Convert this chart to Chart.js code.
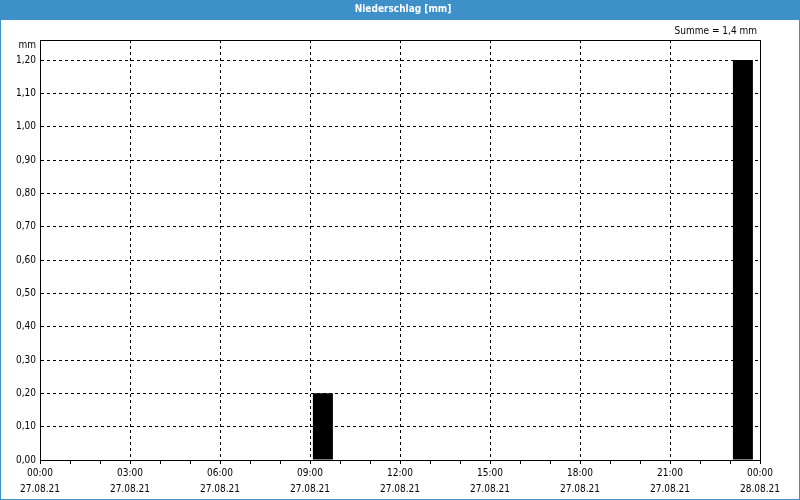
<!DOCTYPE html>
<html><head><meta charset="utf-8">
<script src="https://cdn.jsdelivr.net/npm/chart.js@4/dist/chart.umd.min.js"></script>
<style>html,body{margin:0;padding:0;background:#fff}#wrap{width:800px;height:500px;position:relative}</style>
</head><body><div id="wrap"><canvas id="c" width="800" height="500"></canvas></div>
<script>
const titleText = 'Niederschlag [mm]';
const sumText = 'Summe = 1,4 mm';
const unitText = 'mm';
const hours = [0,1,2,3,4,5,6,7,8,9,10,11,12,13,14,15,16,17,18,19,20,21,22,23];
const rain = [0,0,0,0,0,0,0,0,0,0.2,0,0,0,0,0,0,0,0,0,0,0,0,0,1.2];
const timeLabels = ['00:00','03:00','06:00','09:00','12:00','15:00','18:00','21:00','00:00'];
const dateLabels = ['27.08.21','27.08.21','27.08.21','27.08.21','27.08.21','27.08.21','27.08.21','27.08.21','28.08.21'];
const yTicks = [0,0.1,0.2,0.3,0.4,0.5,0.6,0.7,0.8,0.9,1.0,1.1,1.2];

const FONT = "'DejaVu Sans Condensed','Liberation Sans',sans-serif";
const BLUE = '#3d91c8';

const framePlugin = {
  id:'frame',
  beforeDraw(chart){
    const ctx = chart.ctx;
    ctx.save();
    ctx.fillStyle = BLUE;
    ctx.fillRect(0,0,800,20);
    ctx.fillStyle = '#fff';
    ctx.font = 'bold 10px ' + FONT;
    ctx.textAlign = 'center'; ctx.textBaseline = 'middle';
    ctx.fillText(titleText, 403, 9.5);
    ctx.fillStyle = '#000';
    ctx.font = '10px ' + FONT;
    ctx.textAlign = 'right';
    ctx.fillText(sumText, 757, 31);
    ctx.textAlign = 'right';
    ctx.fillText(unitText, 36, 45);
    ctx.restore();
  },
  afterDraw(chart){
    const ctx = chart.ctx, a = chart.chartArea;
    ctx.save();
    ctx.strokeStyle = '#000'; ctx.lineWidth = 1; ctx.setLineDash([]);
    ctx.strokeRect(Math.round(a.left)+0.5, Math.round(a.top)+0.5, Math.round(a.right-a.left), Math.round(a.bottom-a.top));
    ctx.strokeStyle = BLUE;
    ctx.strokeRect(0.5,0.5,799,499);
    ctx.restore();
  }
};

new Chart(document.getElementById('c'), {
  type:'bar',
  data:{ datasets:[{
    data: hours.map((h,i)=>({x:h+0.43, y:rain[i]})),
    backgroundColor:'#000', borderWidth:0, barThickness:20, grouped:false, inflateAmount:0
  }]},
  options:{
    responsive:false, animation:false,
    layout:{padding:{top:40,right:40,left:0,bottom:0}},
    plugins:{legend:{display:false},tooltip:{enabled:false},title:{display:false}},
    scales:{
      x:{
        type:'linear', min:0, max:24, offset:false,
        afterBuildTicks(s){ s.ticks = hours.concat([24]).map(v=>({value:v})); },
        afterFit(s){ s.height = 40; },
        grid:{ offset:false,
               color:c=> (c.tick && c.tick.value%3===0 && c.tick.value>0 && c.tick.value<24) ? '#000':'rgba(0,0,0,0)',
               tickColor:'#000', tickLength:4, drawTicks:true, tickBorderDash:[], lineWidth:1 },
        border:{display:true,color:'#000',dash:[3,3]},
        ticks:{ autoSkip:false, maxRotation:0, color:'#000', padding:1,
          font:{family:FONT,size:10,lineHeight:1.6},
          callback:(v)=> v%3===0 ? [timeLabels[v/3], dateLabels[v/3]] : '' }
      },
      y:{
        min:0, max:1.26,
        afterBuildTicks(s){ s.ticks = yTicks.map(v=>({value:v})); },
        afterFit(s){ s.width = 40; },
        grid:{ offset:false, color:c=> (c.tick && c.tick.value>0) ? '#000':'rgba(0,0,0,0)', drawTicks:false, lineWidth:1 },
        border:{display:true,color:'#000',dash:[3,3]},
        ticks:{ color:'#000', padding:4, font:{family:FONT,size:10},
          callback:(v)=> v.toFixed(2).replace('.',',') }
      }
    }
  },
  plugins:[framePlugin]
});
</script></body></html>
